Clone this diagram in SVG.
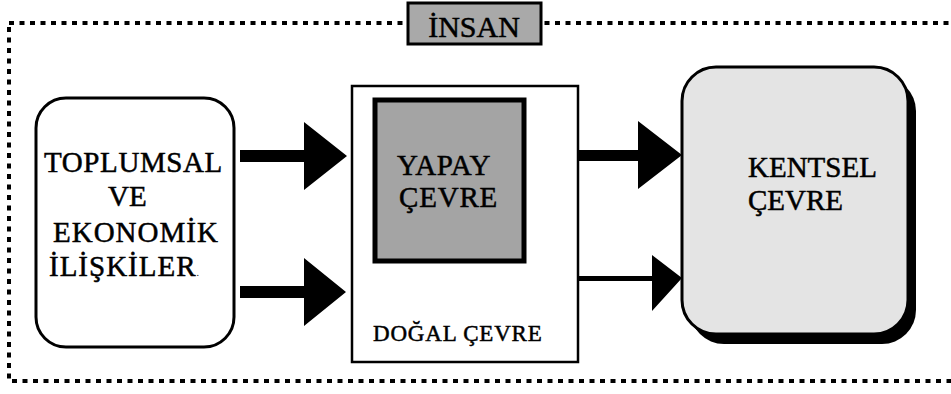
<svg xmlns="http://www.w3.org/2000/svg" width="951" height="394" viewBox="0 0 951 394">
<style>
text{font-family:"Liberation Serif","Times New Roman",serif;fill:#000;stroke:#000;stroke-width:0.5}
.lbl{font-size:29px}
.frame{fill:none;stroke:#000;stroke-width:4;stroke-dasharray:5 5.5}
.box{fill:#fff;stroke:#000;stroke-width:3}
.arr{fill:#000;stroke:none}
</style>
<rect width="951" height="394" fill="#fff"/>
<rect class="frame" x="9" y="23" width="980" height="358"/>
<g id="insan">
<rect x="408" y="3" width="133" height="41" fill="#a9a9a9" stroke="#000" stroke-width="3"/>
<text x="474" y="37" font-size="30" text-anchor="middle">İNSAN</text>
</g>
<g id="toplumsal">
<rect class="box" x="36" y="98" width="198" height="249" rx="30" ry="30"/>
<text class="lbl" x="44" y="172" letter-spacing="0.6">TOPLUMSAL</text>
<text class="lbl" x="108" y="206">VE</text>
<text class="lbl" x="53" y="242" letter-spacing="1">EKONOMİK</text>
<text class="lbl" x="49" y="276" letter-spacing="1">İLİŞKİLER<tspan font-size="10" stroke-width="0">.</tspan></text>
</g>
<g id="dogal">
<rect x="352" y="86" width="226" height="276" fill="#fff" stroke="#000" stroke-width="2.5"/>
<text x="373" y="341" font-size="23" letter-spacing="0.8">DOĞAL ÇEVRE</text>
</g>
<g id="yapay">
<rect x="375" y="100" width="149" height="161" fill="#a4a4a4" stroke="#000" stroke-width="5"/>
<text class="lbl" x="397" y="175" letter-spacing="0.5">YAPAY</text>
<text class="lbl" x="399" y="207" letter-spacing="0.8">ÇEVRE</text>
</g>
<g id="kentsel">
<rect x="690" y="77" width="226" height="267" rx="34" ry="34" fill="#000"/>
<rect x="682" y="67" width="226" height="267" rx="34" ry="34" fill="#e4e4e4" stroke="#000" stroke-width="3"/>
<text class="lbl" x="748" y="177">KENTSEL</text>
<text class="lbl" x="748" y="210">ÇEVRE</text>
</g>
<g id="connectors">
<polygon class="arr" points="240,150 304,150 304,122 347,156 304,190 304,162 240,162"/>
<polygon class="arr" points="240,286 304,286 304,258 346,292 304,326 304,298 240,298"/>
<polygon class="arr" points="578,150 638,150 638,121 682,155 638,189 638,161 578,161"/>
<polygon class="arr" points="578,276 652,276 652,255 682,278 652,311 652,281 578,281"/>
</g>
</svg>
